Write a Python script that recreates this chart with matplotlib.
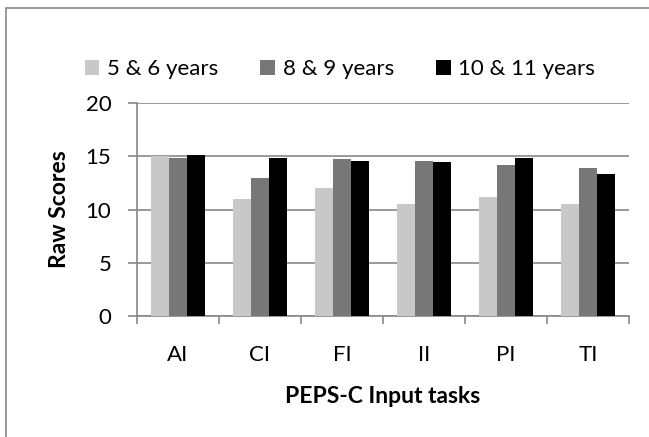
import matplotlib.pyplot as plt
import numpy as np
from matplotlib.patches import Rectangle

tasks = ['AI', 'CI', 'FI', 'II', 'PI', 'TI']
groups = ['5 & 6 years', '8 & 9 years', '10 & 11 years']
age_5_6 = [15.0, 11.0, 12.0, 10.5, 11.2, 10.5]
age_8_9 = [14.8, 13.0, 14.7, 14.6, 14.2, 13.9]
age_10_11 = [15.1, 14.8, 14.6, 14.5, 14.8, 13.3]
colors = ['#C8C8C8', '#777777', '#000000']

plt.rcParams['font.family'] = ['Lato', 'DejaVu Sans']

fig = plt.figure(figsize=(6.49, 4.37), dpi=100)
# chart area border (only top/left visible in the reference)
fig.patches.append(Rectangle((6/649, -0.1), 1.2, 1 - 8/437 + 0.1, transform=fig.transFigure,
                             fill=False, edgecolor='#888888', linewidth=1.2))

ax = fig.add_axes([137/649, 1 - 316/437, (629 - 137)/649, (316 - 103)/437])

x = np.arange(len(tasks))
w = 0.22
for i, (vals, lab) in enumerate(zip([age_5_6, age_8_9, age_10_11], groups)):
    ax.bar(x + (i - 1) * w, vals, w, color=colors[i], label=lab, zorder=3)

ax.set_xlim(-0.5, len(tasks) - 0.5)
ax.set_ylim(0, 20)
ax.set_yticks([0, 5, 10, 15, 20])
ax.yaxis.grid(True, color='#888888', linewidth=1.2, zorder=0)
ax.set_axisbelow(True)

ax.set_xticks(x)
ax.set_xticklabels(tasks)
ax.set_xticks(np.arange(-0.5, len(tasks)), minor=True)
ax.tick_params(axis='x', which='major', length=0, pad=21, labelsize=16)
ax.tick_params(axis='x', which='minor', length=6, color='#888888', width=1.2)
ax.tick_params(axis='y', length=6.5, color='#888888', width=1.2, pad=12, labelsize=16)

for s in ['top', 'right']:
    ax.spines[s].set_visible(False)
for s in ['left', 'bottom']:
    ax.spines[s].set_color('#888888')
    ax.spines[s].set_linewidth(1.2)

ax.set_xlabel('PEPS-C Input tasks', fontsize=16.5, fontweight='bold', labelpad=15)
ax.set_ylabel('Raw Scores', fontsize=16.5, fontweight='bold', labelpad=11)

fig.legend(loc='center', bbox_to_anchor=(340/649, 1 - 69/437), ncol=3, frameon=False,
           fontsize=16, handlelength=0.65, handleheight=0.65, handletextpad=0.35,
           columnspacing=1.9)

fig.savefig('out.png', dpi=100)
